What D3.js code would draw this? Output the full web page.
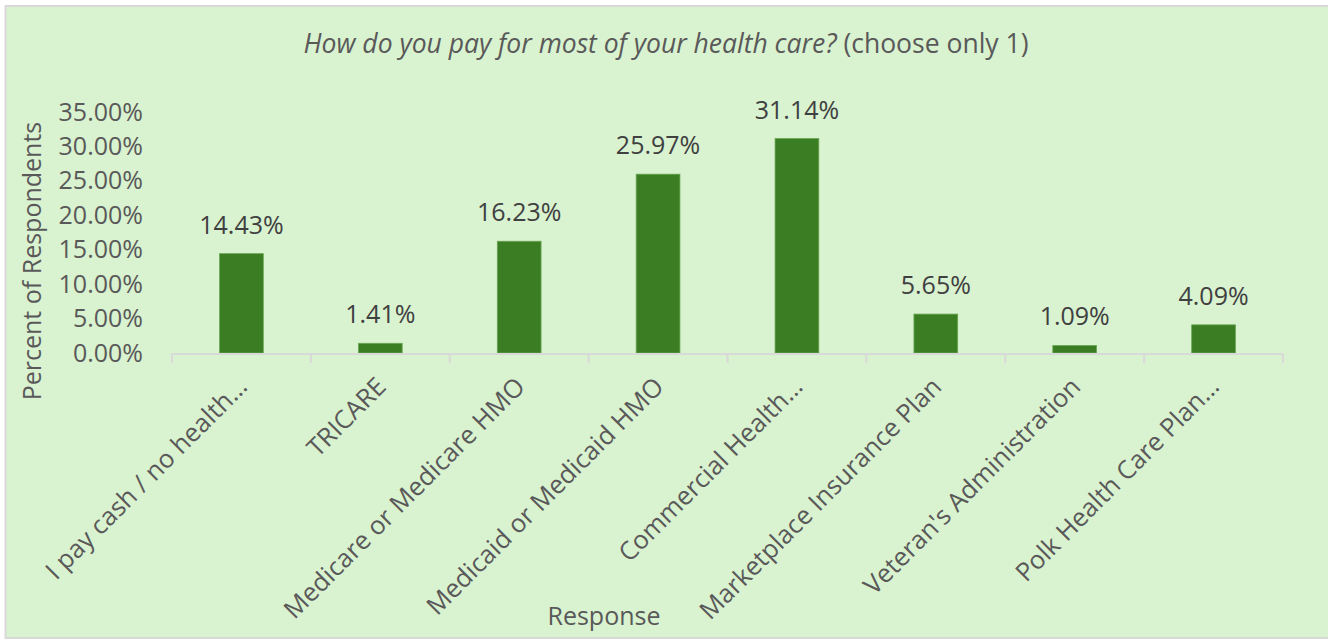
<!DOCTYPE html>
<html>
<head>
<meta charset="utf-8">
<script src="https://cdn.jsdelivr.net/npm/d3@7"></script>
<style>
  html, body { margin: 0; padding: 0; background: #ffffff; }
  svg { display: block; }
  text { font-family: "Open Sans", "Noto Sans", sans-serif; }
</style>
</head>
<body>
<svg id="chart" width="1328" height="640"></svg>
<script>
// Survey answers and share of respondents (percent)
const categories = [
  "I pay cash / no health\u2026",
  "TRICARE",
  "Medicare or Medicare HMO",
  "Medicaid or Medicaid HMO",
  "Commercial Health\u2026",
  "Marketplace Insurance Plan",
  "Veteran's Administration",
  "Polk Health Care Plan\u2026"
];
const percents = [14.43, 1.41, 16.23, 25.97, 31.14, 5.65, 1.09, 4.09];
const yTicks = [0, 5, 10, 15, 20, 25, 30, 35];
const titleItalic = "How do you pay for most of your health care?";
const titleNormal = " (choose only 1)";
const yTitle = "Percent of Respondents";
const xTitle = "Response";

const svg = d3.select("#chart");
const W = 1328, H = 640;

const plot = { left: 172, right: 1283, top: 112, bottom: 353 };

// panel background with a light grey frame
svg.append("rect")
  .attr("x", 5.5).attr("y", 6).attr("width", W + 20).attr("height", 632)
  .attr("fill", "#d9f2d0").attr("stroke", "#d9d9d9").attr("stroke-width", 2);

const x = d3.scaleBand()
  .domain(categories)
  .range([plot.left, plot.right])
  .paddingInner(0.685)
  .paddingOuter(0.3425);

const y = d3.scaleLinear()
  .domain([0, 35])
  .range([plot.bottom, plot.top]);

// title: italic question followed by an upright note
const title = svg.append("text")
  .attr("x", 666).attr("y", 53)
  .attr("text-anchor", "middle")
  .attr("font-size", 26.5)
  .attr("fill", "#595959");
title.append("tspan").attr("font-style", "italic").text(titleItalic);
title.append("tspan").text(titleNormal);

// y axis tick labels (no axis line)
const yAxis = d3.axisLeft(y)
  .tickValues(yTicks)
  .tickSize(0)
  .tickPadding(0)
  .tickFormat(d => d.toFixed(2) + "%");
const yg = svg.append("g")
  .attr("transform", `translate(${plot.left - 29},0)`)
  .call(yAxis);
yg.select(".domain").remove();
yg.selectAll("text")
  .attr("font-size", 25)
  .attr("fill", "#595959")
  .attr("font-family", "Open Sans, Noto Sans, sans-serif");

// bars
svg.append("g").selectAll("rect")
  .data(percents)
  .join("rect")
  .attr("x", (d, i) => x(categories[i]))
  .attr("y", d => y(d))
  .attr("width", x.bandwidth())
  .attr("height", d => y(0) - y(d))
  .attr("fill", "#3b7d23")
  .attr("stroke", "#6aa553")
  .attr("stroke-width", 0.8);

// value labels above bars
svg.append("g").selectAll("text")
  .data(percents)
  .join("text")
  .attr("x", (d, i) => x(categories[i]) + x.bandwidth() / 2)
  .attr("y", d => y(d) - 20)
  .attr("text-anchor", "middle")
  .attr("font-size", 25)
  .attr("fill", "#404040")
  .text(d => d.toFixed(2) + "%");

// category axis: baseline with boundary ticks
const step = x.step();
const edges = d3.range(categories.length + 1).map(i => plot.left + i * step);
const xg = svg.append("g");
xg.append("line")
  .attr("x1", plot.left).attr("x2", plot.right)
  .attr("y1", plot.bottom + 1).attr("y2", plot.bottom + 1)
  .attr("stroke", "#d9d9d9").attr("stroke-width", 2);
xg.selectAll("line.tick")
  .data(edges)
  .join("line")
  .attr("class", "tick")
  .attr("x1", d => d).attr("x2", d => d)
  .attr("y1", plot.bottom + 1).attr("y2", plot.bottom + 10)
  .attr("stroke", "#d9d9d9").attr("stroke-width", 2);

// rotated category labels
xg.selectAll("text")
  .data(categories)
  .join("text")
  .attr("transform", d => `translate(${x(d) + x.bandwidth() / 2 + 1},${plot.bottom + 29}) rotate(-45)`)
  .attr("text-anchor", "end")
  .attr("dy", "0.35em")
  .attr("font-size", 25.5)
  .attr("fill", "#595959")
  .text(d => d);

// axis titles
svg.append("text")
  .attr("transform", `translate(41,261) rotate(-90)`)
  .attr("text-anchor", "middle")
  .attr("font-size", 25)
  .attr("fill", "#595959")
  .text(yTitle);

svg.append("text")
  .attr("x", 604).attr("y", 625)
  .attr("text-anchor", "middle")
  .attr("font-size", 25)
  .attr("fill", "#595959")
  .text(xTitle);
</script>
</body>
</html>
